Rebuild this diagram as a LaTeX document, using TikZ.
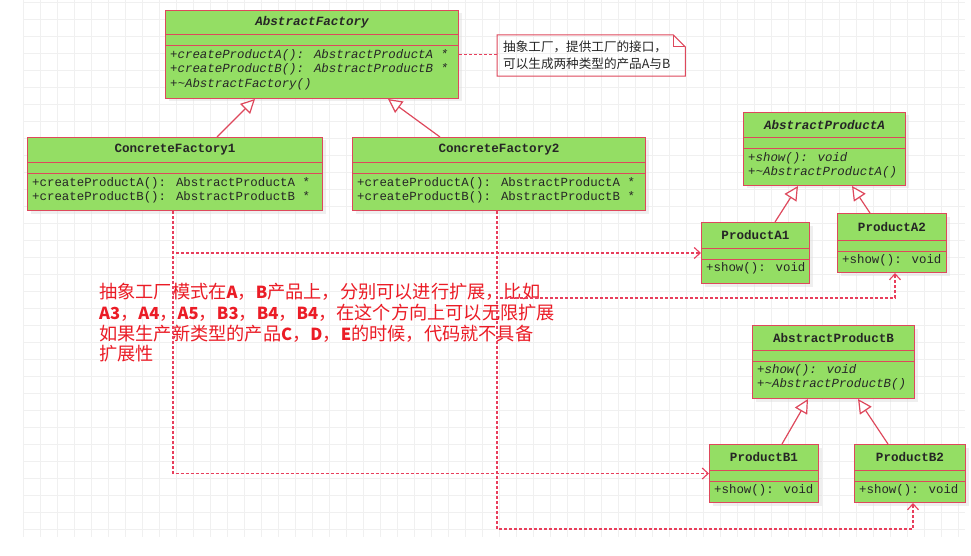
\documentclass[tikz,border=0pt]{standalone}
\usepackage{fontspec}
\newfontfamily\monofont{Liberation Mono}
\newfontfamily\cjk{Noto Sans CJK SC}
\usepackage{tikz}
\usetikzlibrary{arrows.meta,calc,shadows}

\definecolor{classgreen}{RGB}{148,222,100}
\definecolor{classred}{RGB}{222,72,92}
\definecolor{depred}{RGB}{232,62,92}
\definecolor{textred}{RGB}{235,28,38}
\definecolor{gridgray}{RGB}{240,240,240}
\definecolor{darktext}{RGB}{38,38,38}

\tikzset{
  classbox/.style={draw=classred, fill=classgreen, line width=1pt, anchor=north west, inner sep=0pt,
    drop shadow={shadow xshift=3pt, shadow yshift=-3pt, fill=black!12}},
  classline/.style={draw=classred, line width=1pt},
  titletext/.style={font=\monofont\bfseries\fontsize{12.6}{14.5}\selectfont, text=darktext, inner sep=0pt},
  bodytext/.style={font=\monofont\fontsize{12.4}{14.5}\selectfont, text=darktext, anchor=north west, inner sep=0pt, align=left},
  abstract title/.style={titletext, font=\monofont\bfseries\itshape\fontsize{12.6}{14.5}\selectfont},
  abstract body/.style={bodytext, font=\monofont\itshape\fontsize{12.4}{14.5}\selectfont},
  abstractb title/.style={titletext},
  abstractb body/.style={abstract body},
  concrete title/.style={titletext},
  concrete body/.style={bodytext},
  inherit/.style={draw=classred, line width=1.2pt, -{Triangle[open, fill=white, length=14pt, width=14pt]}},
  depline/.style={draw=depred, line width=1.1pt, dash pattern=on 3pt off 2pt, -{Straight Barb[length=6pt, width=11pt]}},
  gridline/.style={draw=gridgray, line width=0.8pt}
}

% bold latin letters inside the remark
\newcommand{\lt}[1]{{\fontsize{16.6}{20.8}\selectfont\bfseries #1}}

% name, left, top, width, height, title height, kind, title, body
\newcommand{\umlclass}[9]{%
  \node[classbox, minimum width=#4pt, minimum height=#5pt] (#1) at (#2,#3) {};
  \draw[classline] ([yshift=-#6pt]#1.north west) -- ([yshift=-#6pt]#1.north east);
  \draw[classline] ([yshift=-#6pt-11pt]#1.north west) -- ([yshift=-#6pt-11pt]#1.north east);
  \node[#7 title] (#1title) at ([yshift=-#6pt/2]#1.north) {#8};
  \node[#7 body] (#1body) at ([xshift=5pt, yshift=-#6pt-14pt]#1.north west) {#9};
}

\begin{document}
\begin{tikzpicture}[x=1pt, y=-1pt]
  \useasboundingbox[fill=white] (0,0) rectangle (971,556);
  % background grid
  \foreach \gx in {23,40,...,965} \draw[gridline] (\gx,0) -- (\gx,537);
  \foreach \gy in {2,19,...,537} \draw[gridline] (23,\gy) -- (965,\gy);

  % classes
  \umlclass{af}{165}{10}{293}{88}{25}{abstract}{AbstractFactory}
    {+createProductA(): AbstractProductA *\\+createProductB(): AbstractProductB *\\+\textasciitilde AbstractFactory()}
  \umlclass{cf1}{27}{137}{295}{73}{26}{concrete}{ConcreteFactory1}
    {+createProductA(): AbstractProductA *\\+createProductB(): AbstractProductB *}
  \umlclass{cf2}{352}{137}{293}{73}{26}{concrete}{ConcreteFactory2}
    {+createProductA(): AbstractProductA *\\+createProductB(): AbstractProductB *}
  \umlclass{apa}{743}{112}{162}{73}{26}{abstract}{AbstractProductA}
    {+show(): void\\+\textasciitilde AbstractProductA()}
  \umlclass{pa1}{701}{222}{108}{61}{26}{concrete}{ProductA1}{+show(): void}
  \umlclass{pa2}{837}{213}{109}{59}{27}{concrete}{ProductA2}{+show(): void}
  \umlclass{apb}{752}{325}{162}{73}{25}{abstractb}{AbstractProductB}
    {+show(): void\\+\textasciitilde AbstractProductB()}
  \umlclass{pb1}{709}{444}{109}{58}{26}{concrete}{ProductB1}{+show(): void}
  \umlclass{pb2}{854}{444}{111}{58}{26}{concrete}{ProductB2}{+show(): void}

  % note
  \node[anchor=north west, minimum height=40pt, text width=176pt, inner sep=6pt, align=left,
    font=\cjk\fontsize{12.6}{17}\selectfont, text=darktext] (note) at (497,35)
    {抽象工厂，提供工厂的接口，\\可以生成两种类型的产品A与B};
  \draw[classline, fill=none] (note.south west) -- (note.north west) -- ([xshift=-12pt]note.north east)
    -- ([yshift=-12pt]note.north east) -- (note.south east) -- cycle;
  \draw[classline] ([xshift=-12pt]note.north east) -- ([xshift=-12pt, yshift=-12pt]note.north east)
    -- ([yshift=-12pt]note.north east);
  \draw[depline, -] (af.east) -- (af.east -| note.west);

  % remark
  \node[anchor=north west, inner sep=0pt, align=left, text=textred,
    font=\cjk\fontsize{18.2}{20.8}\selectfont] (remark) at (99,283)
    {抽象工厂模式在\lt{A}，\lt{B}产品上，分别可以进行扩展，比如\\
     \lt{A3}，\lt{A4}，\lt{A5}，\lt{B3}，\lt{B4}，\lt{B4}，在这个方向上可以无限扩展\\
     如果生产新类型的产品\lt{C}，\lt{D}，\lt{E}的时候，代码就不具备\\
     扩展性};

  % inheritance
  \draw[inherit] ([xshift=190pt]cf1.north west) -- ([xshift=90pt]af.south west);
  \draw[inherit] ([xshift=88pt]cf2.north west) -- ([xshift=223pt]af.south west);
  \draw[inherit] ([xshift=74pt]pa1.north west) -- ([xshift=55pt]apa.south west);
  \draw[inherit] ([xshift=33pt]pa2.north west) -- ([xshift=109pt]apa.south west);
  \draw[inherit] ([xshift=73pt]pb1.north west) -- ([xshift=56pt]apb.south west);
  \draw[inherit] ([xshift=34pt]pb2.north west) -- ([xshift=106pt]apb.south west);

  % dependencies
  \draw[depline] ([xshift=146pt]cf1.south west) |- (pa1.west);
  \draw[depline] ([xshift=146pt]cf1.south west) |- (pb1.west);
  \draw[depline] ([xshift=145pt]cf2.south west) -- ++(0,87) -| ([xshift=3pt]pa2.south);
  \draw[depline] ([xshift=145pt]cf2.south west) -- ++(0,318) -| ([xshift=3pt]pb2.south);
\end{tikzpicture}
\end{document}
